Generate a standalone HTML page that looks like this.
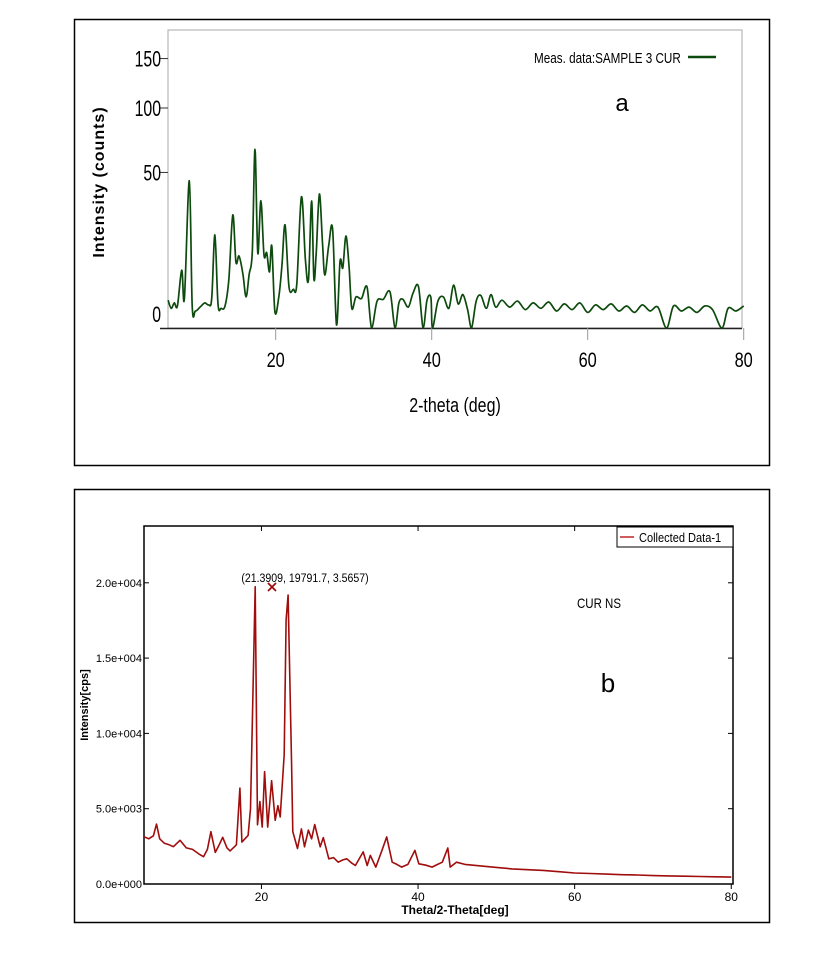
<!DOCTYPE html>
<html><head><meta charset="utf-8">
<style>
html,body{margin:0;padding:0;background:#fff;}
svg{display:block;font-family:"Liberation Sans",sans-serif;}
</style></head>
<body>
<svg id="s" width="839" height="961" viewBox="0 0 839 961" xmlns="http://www.w3.org/2000/svg">
  <rect x="74.5" y="19.5" width="695" height="446" fill="none" stroke="#000" stroke-width="1.5"/>
  <rect x="74.5" y="489.5" width="695" height="433" fill="none" stroke="#000" stroke-width="1.5"/>
  <g id="ga"></g>
  <g id="gb"></g>
</svg>
<script>
// ---------- Chart A data ----------
const aTheta = [6.2,6.6,7.0,7.4,7.95,8.3,8.92,9.3,9.7,10.3,10.9,11.4,11.8,12.2,12.6,13.0,13.5,14.0,14.5,14.9,15.3,15.8,16.2,16.6,17.0,17.35,17.7,18.1,18.5,18.85,19.2,19.5,19.9,20.4,20.8,21.2,21.7,22.25,22.7,23.3,23.8,24.2,24.6,24.9,25.2,25.6,26.0,26.3,26.8,27.3,27.8,28.25,28.6,29.0,29.4,29.75,30.3,31.0,31.7,32.3,33.0,33.8,34.65,35.3,35.8,36.3,37.0,37.6,38.3,38.9,39.4,39.9,40.1,40.8,41.5,42.2,42.8,43.4,44.0,44.6,45.1,45.7,46.3,47.0,47.6,48.2,49.0,50.0,51.0,52.0,53.0,54.0,55.0,56.0,57.0,58.0,59.0,60.0,61.0,62.0,63.0,64.0,65.0,66.0,67.0,68.0,69.0,70.1,71.0,72.0,73.0,74.0,75.0,76.0,77.2,78.0,79.0,80.0];
const aCounts = [1.6,0.8,1.3,1.0,6.9,1.8,44.8,1.0,0.6,0.9,1.3,1.1,1.8,17.9,1.2,0.8,1.0,5.0,26.4,9.0,10.7,6.0,2.0,6.0,12.0,66,11.6,33.5,11.0,11.7,6.5,13.9,0.55,2.0,8.0,21.9,3.5,3.1,4.0,35.5,10.0,4.8,33.3,5.0,12.0,37.1,14.9,5.8,14.0,20.2,0.02,9.1,7.5,17.5,8.0,0.8,2.0,1.8,3.5,0,1.5,1.7,2.7,0,1.3,1.7,0.9,2.5,3.6,0,1.6,1.9,0,1.5,2.0,0.8,3.8,1.2,2.3,0.7,0,1.5,2.2,0.8,2.3,0.9,1.6,0.9,1.5,0.7,1.3,0.8,1.4,0.6,1.2,0.7,1.3,0.5,1.1,0.7,1.2,0.6,1.0,0.5,1.1,0.6,0.9,0,1.0,0.6,0.9,0.5,1.0,0.7,0,0.8,0.6,1.0];
const aXTicks = [20,40,60,80];
const aYTicks = [0,50,100,150];

// ---------- Chart B data ----------
const bTheta = [5.0,5.6,6.2,6.6,7.0,7.6,8.2,8.75,9.6,10.4,11.2,12.0,12.6,13.1,13.55,14.1,14.6,15.05,15.6,16.0,16.8,17.25,17.5,18.3,18.6,19.2,19.5,19.8,20.1,20.4,20.8,21.3,21.75,22.1,22.4,22.9,23.15,23.4,23.85,24.0,24.6,25.1,25.5,26.0,26.4,26.8,27.5,27.9,28.6,29.2,29.8,30.4,30.9,31.5,32.0,33.0,33.5,33.9,34.6,35.4,36.0,36.7,37.3,37.9,38.7,39.6,40.1,41.0,41.8,42.5,43.1,43.8,44.1,44.9,46.0,47.0,48.0,49.0,50.0,52.0,54.0,56.0,58.0,60.0,62.0,64.0,66.0,68.0,70.0,72.0,74.0,76.0,78.0,80.0];
const bCounts = [3140,3000,3200,3980,3000,2700,2600,2480,2900,2400,2300,2000,1810,2300,3470,2100,2600,3100,2400,2200,2600,6370,2780,3230,5000,19740,3930,5470,3780,7460,3780,6860,4230,5200,4450,8600,17530,19190,7900,3480,2360,3660,2470,3580,3000,3950,2470,3080,1670,1750,1450,1600,1670,1400,1230,2130,1230,1900,1120,2240,3130,1450,1300,1120,1300,2240,1340,1250,1120,1300,1450,2390,1120,1450,1300,1250,1200,1150,1100,1000,950,900,820,730,700,660,620,600,560,540,520,500,480,460];
const bYTicks = [0,5000,10000,15000,20000];
const bXTicks = [20,40,60,80];
const bYLabels = ["0.0e+000","5.0e+003","1.0e+004","1.5e+004","2.0e+004"];

const NS="http://www.w3.org/2000/svg";
function mk(parent,tag,attrs,txt){const e=document.createElementNS(NS,tag);for(const k in attrs)e.setAttribute(k,attrs[k]);if(txt!==undefined)e.textContent=txt;parent.appendChild(e);return e;}
function smooth(pts){
  let s='M'+pts[0][0].toFixed(1)+','+pts[0][1].toFixed(1);
  for(let i=0;i<pts.length-1;i++){
    const p0=pts[Math.max(i-1,0)],p1=pts[i],p2=pts[i+1],p3=pts[Math.min(i+2,pts.length-1)];
    const c1x=p1[0]+(p2[0]-p0[0])/6,c1y=p1[1]+(p2[1]-p0[1])/6;
    const c2x=p2[0]-(p3[0]-p1[0])/6,c2y=p2[1]-(p3[1]-p1[1])/6;
    s+=` C${c1x.toFixed(1)},${Math.min(c1y,328).toFixed(1)} ${c2x.toFixed(1)},${Math.min(c2y,328).toFixed(1)} ${p2[0].toFixed(1)},${p2[1].toFixed(1)}`;
  }
  return s;
}

// ---- Chart A ----
const ga=document.getElementById('ga');
const ax=v=>275.7+(v-20)*7.8;
const ay=v=>328-22*Math.sqrt(Math.max(v,0));
let e=mk(ga,'rect',{x:168,y:30,width:574,height:298,fill:'none',stroke:'#aaa','stroke-width':1});


e=mk(ga,'line',{x1:160,y1:328.5,x2:742,y2:328.5,stroke:'#222','stroke-width':1.5});


aXTicks.forEach(t=>{
  e=mk(ga,'line',{x1:ax(t),y1:328,x2:ax(t),y2:340,stroke:'#999','stroke-width':1});
  
  
  e=mk(ga,'text',{x:ax(t),y:367,'font-size':21,'text-anchor':'middle',transform:`translate(${ax(t)},0) scale(0.78,1) translate(${-ax(t)},0)`},String(t));
  
  
});
aYTicks.forEach(t=>{
  const y=ay(t);
  if(t>0){e=mk(ga,'line',{x1:160,y1:y,x2:168,y2:y,stroke:'#333','stroke-width':1});
  
  }
  const ly = t===0 ? 322 : y+8;
  e=mk(ga,'text',{x:161,y:ly,'font-size':22,'text-anchor':'end',transform:`translate(161,0) scale(0.72,1) translate(-161,0)`},String(t));
  
  
});
const aPts=aTheta.map((t,i)=>[ax(t),ay(aCounts[i])]);
e=mk(ga,'path',{d:smooth(aPts),fill:'none',stroke:'#0d4a0d','stroke-width':1.7,'stroke-linejoin':'round'});


e=mk(ga,'text',{x:534,y:63,'font-size':15,transform:'translate(534,0) scale(0.78,1) translate(-534,0)'},'Meas. data:SAMPLE 3 CUR');


e=mk(ga,'line',{x1:688,y1:57,x2:716,y2:57,stroke:'#0d4a0d','stroke-width':2.5});


e=mk(ga,'text',{x:622,y:111,'font-size':24,'text-anchor':'middle'},'a');


e=mk(ga,'text',{x:104,y:182,'font-size':16,'font-weight':'bold','letter-spacing':1,'text-anchor':'middle',transform:'rotate(-90 104 182)'},'Intensity (counts)');


e=mk(ga,'text',{x:455,y:412,'font-size':20,'text-anchor':'middle',transform:'translate(455,0) scale(0.8,1) translate(-455,0)'},'2-theta (deg)');



// ---- Chart B ----
const gb=document.getElementById('gb');
const bx=v=>144+(v-5)*7.83;
const by=v=>884-v*0.01506;
e=mk(gb,'rect',{x:144,y:526,width:589,height:358,fill:'none',stroke:'#000','stroke-width':1.5});


bXTicks.forEach(t=>{
  e=mk(gb,'line',{x1:bx(t),y1:884,x2:bx(t),y2:889,stroke:'#000','stroke-width':1});
  
  
  e=mk(gb,'line',{x1:bx(t),y1:526,x2:bx(t),y2:531,stroke:'#000','stroke-width':1});
  
  
  e=mk(gb,'text',{x:bx(t),y:901,'font-size':12,'text-anchor':'middle'},String(t));
  
  
});
bYTicks.forEach((t,i)=>{
  const y=by(t);
  e=mk(gb,'line',{x1:144,y1:y,x2:149,y2:y,stroke:'#000','stroke-width':1});
  
  
  e=mk(gb,'line',{x1:728,y1:y,x2:733,y2:y,stroke:'#000','stroke-width':1});
  
  
  e=mk(gb,'text',{x:142,y:y+4,'font-size':11,'text-anchor':'end'},bYLabels[i]);
  
  
});
const d=bTheta.map((t,i)=>(i?'L':'M')+bx(t).toFixed(1)+','+by(bCounts[i]).toFixed(1)).join(' ');
e=mk(gb,'path',{d:d,fill:'none',stroke:'#a00d0d','stroke-width':1.6,'stroke-linejoin':'round'});


e=mk(gb,'rect',{x:617,y:527,width:116,height:20,fill:'#fff',stroke:'#000','stroke-width':1});


e=mk(gb,'line',{x1:620,y1:537,x2:634,y2:537,stroke:'#c0262b','stroke-width':1.5});


e=mk(gb,'text',{x:639,y:542,'font-size':13,transform:'translate(639,0) scale(0.85,1) translate(-639,0)'},'Collected Data-1');


e=mk(gb,'text',{x:305,y:582,'font-size':12,'text-anchor':'middle',transform:'translate(305,0) scale(0.88,1) translate(-305,0)'},'(21.3909, 19791.7, 3.5657)');


e=mk(gb,'path',{d:'M268,583 L276,591 M276,583 L268,591',stroke:'#a00d0d','stroke-width':1.8,fill:'none'});


e=mk(gb,'text',{x:577,y:608,'font-size':14,transform:'translate(577,0) scale(0.82,1) translate(-577,0)'},'CUR NS');


e=mk(gb,'text',{x:608,y:692,'font-size':26,'text-anchor':'middle'},'b');


e=mk(gb,'text',{x:88,y:705,'font-size':11,'font-weight':'bold','text-anchor':'middle',transform:'rotate(-90 88 705)'},'Intensity[cps]');


e=mk(gb,'text',{x:455,y:914,'font-size':12,'font-weight':'bold','text-anchor':'middle'},'Theta/2-Theta[deg]');


</script>
</body></html>
